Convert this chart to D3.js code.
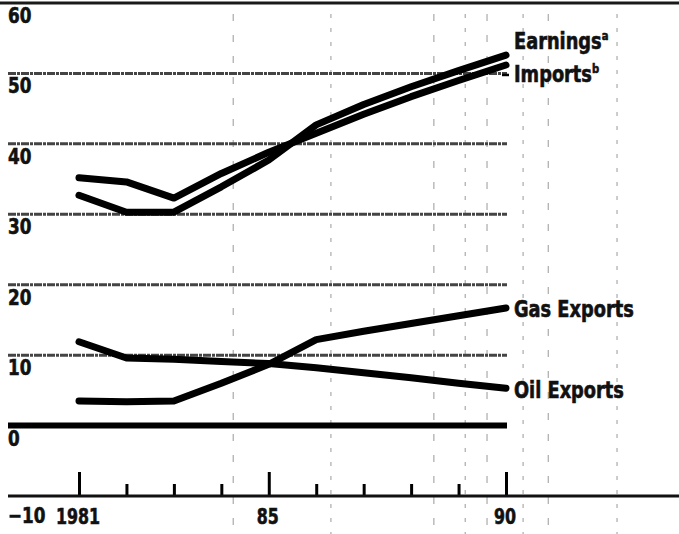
<!DOCTYPE html>
<html>
<head>
<meta charset="utf-8">
<script src="https://cdn.jsdelivr.net/npm/d3@7"></script>
<style>
  body { margin: 0; background: #fff; }
  svg { display: block; }
  text { font-family: "DejaVu Sans Condensed", "Liberation Sans", sans-serif; font-weight: bold; fill: #111; stroke: #111; stroke-width: 0.6px; }
</style>
</head>
<body>
<svg class="chart" width="679" height="534"></svg>
<script>
// data (billion US $)
var years = [1981, 1982, 1983, 1984, 1985, 1986, 1987, 1988, 1989, 1990]
var earnings = [32.7, 30.3, 30.3, 33.9, 37.7, 42.7, 45.6, 48.1, 50.4, 52.6]
var imports = [35.2, 34.6, 32.3, 35.8, 38.8, 41.5, 44.2, 46.7, 49.0, 51.2]
var gasExports = [3.5, 3.4, 3.5, 6.0, 8.7, 12.2, 13.4, 14.5, 15.6, 16.7]
var oilExports = [11.9, 9.6, 9.4, 9.1, 8.8, 8.2, 7.5, 6.8, 6.0, 5.3]

var yTicks = [60, 50, 40, 30, 20, 10, 0, -10]
var xLabels = [1981, 1985, 1990]

var seriesNames = ["Earnings", "Imports", "Gas Exports", "Oil Exports"]
var seriesSup = ["a", "b", "", ""]

// faint dashed streaks of the scanned original, in year units
var scanMarks = [1984.25, 1986.31, 1988.48, 1989.14, 1989.6, 1990.36, 1990.89, 1992.34]

var chart = d3.select(".chart"),
    width = 679

var x = d3.scaleLinear().domain([1981, 1990]).range([79, 506])
var y = d3.scaleLinear().domain([-10, 60]).range([496, 3])

var gridLeft = 8, gridRight = x(1990) + 1

// squeeze text sideways to get the narrow look of the original type
function place(sel, px, py, sx) {
  sel.attr("transform", function(d, i) {
    return "translate(" + px(d, i) + "," + py(d, i) + ") scale(" + sx + ",1)"
  })
}

// scan streaks
chart.append("g").selectAll("line")
    .data(scanMarks)
  .enter().append("line")
    .attr("x1", function(d) { return x(d) })
    .attr("x2", function(d) { return x(d) })
    .attr("y1", 14)
    .attr("y2", 534)
    .attr("stroke", "#999")
    .attr("stroke-width", 1)
    .attr("stroke-dasharray", function(d, i) { return i % 2 ? "4,10" : "7,14" })

// gridlines 10..50
chart.append("g").selectAll("line")
    .data(yTicks.filter(function(d) { return d > 0 && d < 60 }))
  .enter().append("line")
    .attr("x1", gridLeft)
    .attr("x2", gridRight)
    .attr("y1", function(d) { return y(d) })
    .attr("y2", function(d) { return y(d) })
    .attr("stroke", "#444")
    .attr("stroke-width", 3)
    .attr("stroke-dasharray", "8,1,3,1")

// top rule
chart.append("line")
    .attr("x1", 0).attr("x2", width)
    .attr("y1", y(60)).attr("y2", y(60))
    .attr("stroke", "#1a1a1a")
    .attr("stroke-width", 3)

// zero line
chart.append("line")
    .attr("x1", gridLeft).attr("x2", gridRight)
    .attr("y1", y(0)).attr("y2", y(0))
    .attr("stroke", "#000")
    .attr("stroke-width", 6)

// bottom axis with year ticks
var axis = chart.append("g")
    .attr("transform", "translate(0," + y(-10) + ")")
    .call(d3.axisTop(x).tickValues(years).tickFormat("").tickSizeOuter(0).tickSizeInner(12))

axis.select(".domain").remove()
axis.selectAll(".tick line")
    .attr("stroke", "#000")
    .attr("stroke-width", 3)
    .attr("y2", function(d) { return xLabels.indexOf(d) >= 0 ? -24 : -12 })

chart.append("line")
    .attr("x1", gridLeft).attr("x2", width)
    .attr("y1", y(-10)).attr("y2", y(-10))
    .attr("stroke", "#111")
    .attr("stroke-width", 3)

// y labels sit just under their gridlines
var yLab = chart.append("g").selectAll("text")
    .data(yTicks)
  .enter().append("text")
    .style("font-size", "22px")
    .text(function(d) { return d < 0 ? "\u2212" + Math.abs(d) : d })
place(yLab, function() { return 8 },
  function(d) { return y(d) + (d < 0 ? 27 : 20) }, 0.85)

var xLab = chart.append("g").selectAll("text")
    .data(xLabels)
  .enter().append("text")
    .attr("text-anchor", "middle")
    .style("font-size", "22px")
    .text(function(d) { return d === 1981 ? d : String(d).slice(2) })
place(xLab, function(d) { return x(d) - 1 }, function() { return y(-10) + 28 }, 0.8)

// series lines
var allSeries = [earnings, imports, gasExports, oilExports]
var line = d3.line()
    .x(function(d, i) { return x(years[i]) })
    .y(function(d) { return y(d) })

chart.append("g").selectAll("path")
    .data(allSeries)
  .enter().append("path")
    .attr("d", line)
    .attr("fill", "none")
    .attr("stroke", "#000")
    .attr("stroke-width", 7)
    .attr("stroke-linecap", "round")
    .attr("stroke-linejoin", "round")

// end labels
var labelShift = [-6, 17, 9, 10]
var labels = chart.append("g").selectAll("text")
    .data(seriesNames)
  .enter().append("text")
    .style("font-size", "23px")
place(labels, function() { return x(1990) + 8 },
  function(d, i) { return y(allSeries[i][9]) + labelShift[i] }, 0.86)

labels.append("tspan").text(function(d) { return d })
labels.append("tspan")
    .attr("dy", -9)
    .style("font-size", "13px")
    .text(function(d, i) { return seriesSup[i] })

// leader from the imports line to its label
chart.append("line")
    .attr("x1", x(1990) - 4).attr("x2", x(1990) + 3)
    .attr("y1", y(imports[9]) + 10).attr("y2", y(imports[9]) + 10)
    .attr("stroke", "#000")
    .attr("stroke-width", 2.5)
</script>
</body>
</html>
